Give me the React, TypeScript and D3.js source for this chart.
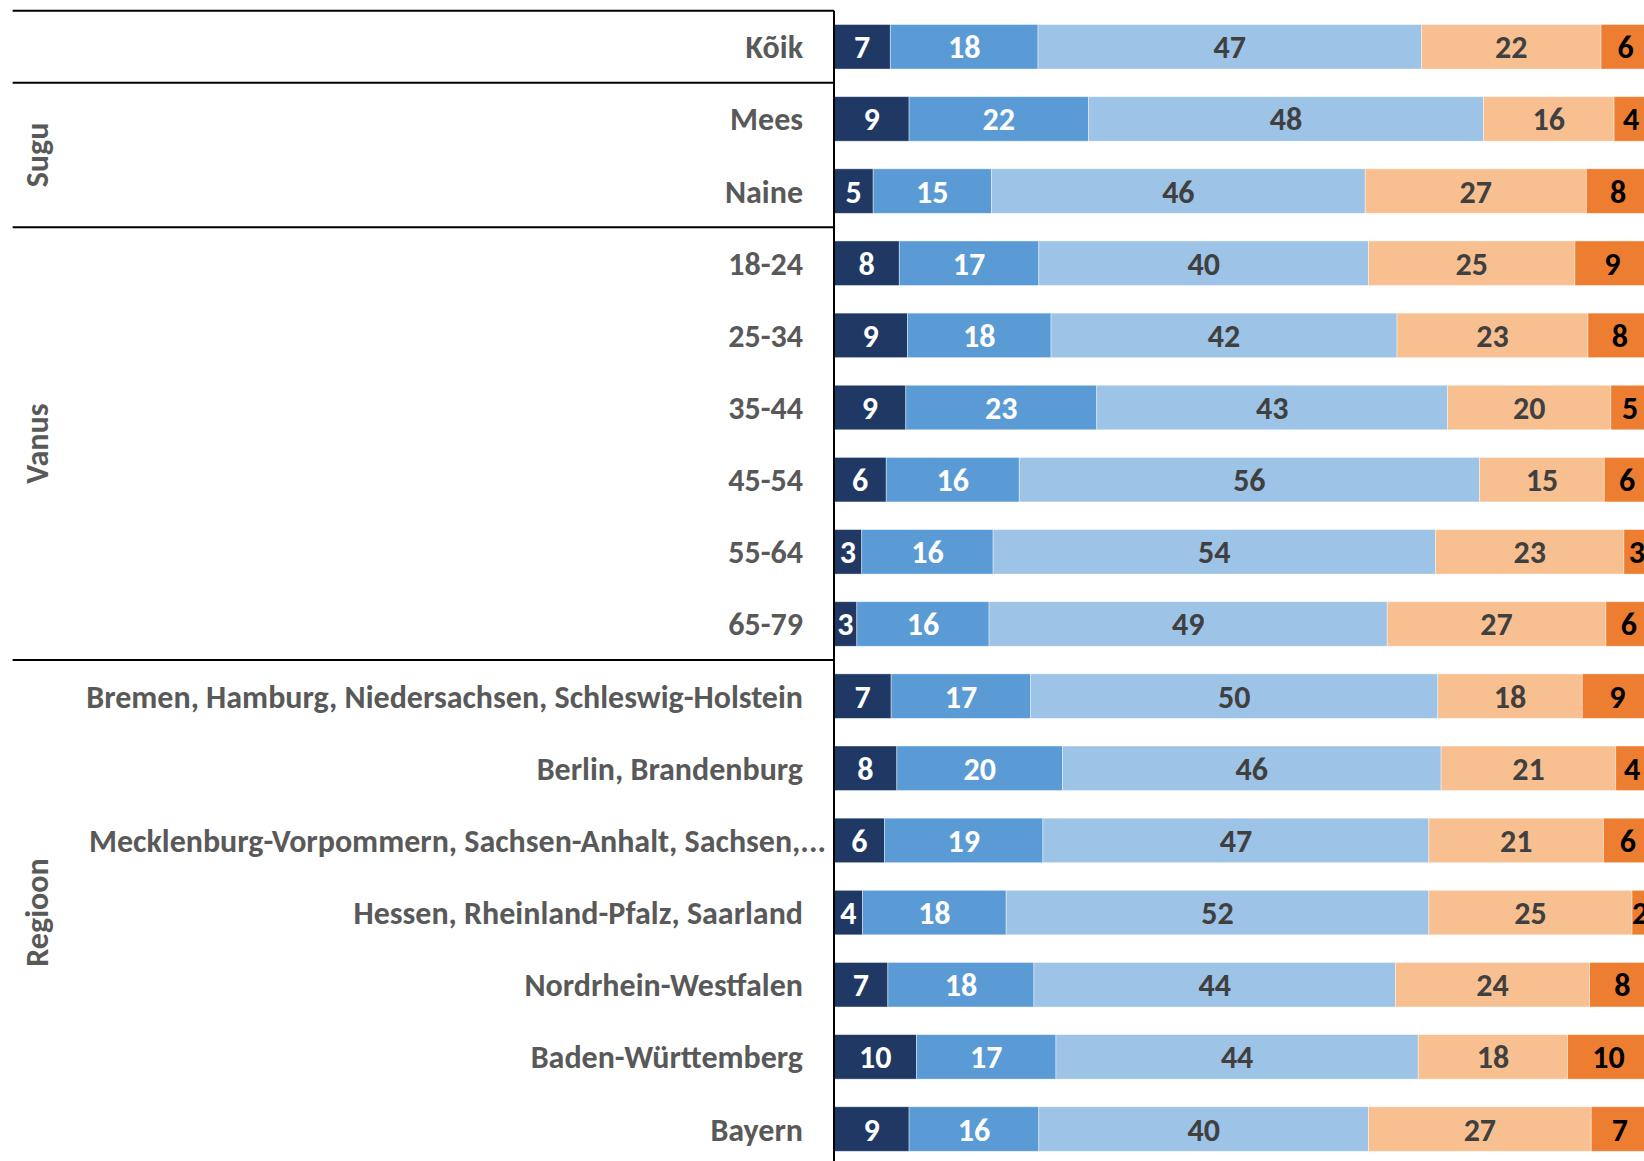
import React, { useEffect } from "react";
import * as d3 from "d3";

const categories = [
  "Kõik",
  "Mees",
  "Naine",
  "18-24",
  "25-34",
  "35-44",
  "45-54",
  "55-64",
  "65-79",
  "Bremen, Hamburg, Niedersachsen, Schleswig-Holstein",
  "Berlin, Brandenburg",
  "Mecklenburg-Vorpommern, Sachsen-Anhalt, Sachsen,...",
  "Hessen, Rheinland-Pfalz, Saarland",
  "Nordrhein-Westfalen",
  "Baden-Württemberg",
  "Bayern",
];

// Shares (%); labels show them rounded
const s1 = [6.9, 9.2, 4.8, 8.0, 9.0, 8.8, 6.4, 3.4, 2.8, 7.0, 7.7, 6.2, 3.5, 6.6, 10.1, 9.2];
const s2 = [18.1, 22.0, 14.5, 17.1, 17.6, 23.4, 16.3, 16.1, 16.2, 17.1, 20.3, 19.4, 17.6, 17.9, 17.1, 15.9];
const s3 = [47.0, 48.4, 45.8, 40.4, 42.4, 43.0, 56.4, 54.2, 48.8, 49.9, 46.4, 47.3, 51.8, 44.3, 44.4, 40.4];
const s4 = [22.0, 16.0, 27.1, 25.3, 23.4, 20.0, 15.3, 23.1, 26.8, 17.7, 21.4, 21.4, 24.9, 23.8, 18.3, 27.3];
const s5 = [6.0, 4.2, 7.8, 9.2, 7.8, 4.7, 5.6, 3.2, 5.6, 8.6, 4.0, 6.0, 2.0, 8.0, 10.0, 7.0];

const groups = [
  { name: "", from: 0, to: 0 },
  { name: "Sugu", from: 1, to: 2 },
  { name: "Vanus", from: 3, to: 8 },
  { name: "Regioon", from: 9, to: 15 },
];

const seriesColors = ["#1F3864", "#5B9BD5", "#9DC3E6", "#F8C090", "#ED7D31"];
const labelColors = ["#FFFFFF", "#FFFFFF", "#404040", "#404040", "#000000"];

const W = 1644;
const H = 1161;
const FONT = "Carlito, Calibri, Lato, 'Open Sans', sans-serif";

export default function App() {
  useEffect(() => {
    document.body.style.margin = "0";
  }, []);

  const series = [s1, s2, s3, s4, s5];
  const axisX = 834;
  const x = d3.scaleLinear().domain([0, 100]).range([axisX, axisX + 816]);
  const top0 = 10.7;
  const y = d3
    .scaleBand<number>()
    .domain(d3.range(categories.length))
    .range([top0, 1165.1])
    .paddingInner(0.383)
    .paddingOuter(0.1915);
  const step = y.step();

  const rows = categories.map((c, i) => {
    let acc = 0;
    const segs = series.map((s, k) => {
      const v = s[i];
      const seg = { k, v, x0: acc, x1: acc + v };
      acc += v;
      return seg;
    });
    return { c, i, segs };
  });

  const boundaries = groups.map((g) => top0 + g.from * step);

  return (
    <svg
      width={W}
      height={H}
      style={{ position: "absolute", left: 0, top: 0, overflow: "hidden", background: "#fff" }}
      fontFamily={FONT}
    >
      <defs>
        <clipPath id="clip">
          <rect x={0} y={0} width={W} height={H} />
        </clipPath>
      </defs>
      <g clipPath="url(#clip)">
        {rows.map((r) => (
          <g key={r.i}>
            {r.segs.map((s) => (
              <rect
                key={s.k}
                x={x(s.x0)}
                y={y(r.i)}
                width={x(s.x1) - x(s.x0)}
                height={y.bandwidth()}
                fill={seriesColors[s.k]}
                stroke="#ffffff"
                strokeOpacity={0.5}
                strokeWidth={0.8}
              />
            ))}
            {r.segs.map((s) => (
              <text
                key={"t" + s.k}
                x={(x(s.x0) + x(s.x1)) / 2}
                y={(y(r.i) as number) + y.bandwidth() / 2}
                dy="0.36em"
                textAnchor="middle"
                fontWeight="bold"
                fontSize={32}
                fill={labelColors[s.k]}
              >
                {Math.round(s.v)}
              </text>
            ))}
            <text
              x={r.c.endsWith("...") ? 826 : 803}
              y={(y(r.i) as number) + y.bandwidth() / 2}
              dy="0.36em"
              textAnchor="end"
              fontWeight="bold"
              fontSize={32}
              fill="#595959"
            >
              {r.c}
            </text>
          </g>
        ))}

        {boundaries.map((b, i) => (
          <line key={"l" + i} x1={12.6} x2={axisX} y1={b} y2={b} stroke="#000" strokeWidth={2} />
        ))}
        <line x1={axisX} x2={axisX} y1={top0} y2={H} stroke="#000" strokeWidth={2} />

        {groups
          .filter((g) => g.name)
          .map((g) => {
            const cy = top0 + ((g.from + g.to + 1) / 2) * step;
            return (
              <text
                key={g.name}
                transform={`translate(36,${cy}) rotate(-90)`}
                dy="0.36em"
                textAnchor="middle"
                fontWeight="bold"
                fontSize={32}
                fill="#595959"
              >
                {g.name}
              </text>
            );
          })}
      </g>
    </svg>
  );
}
